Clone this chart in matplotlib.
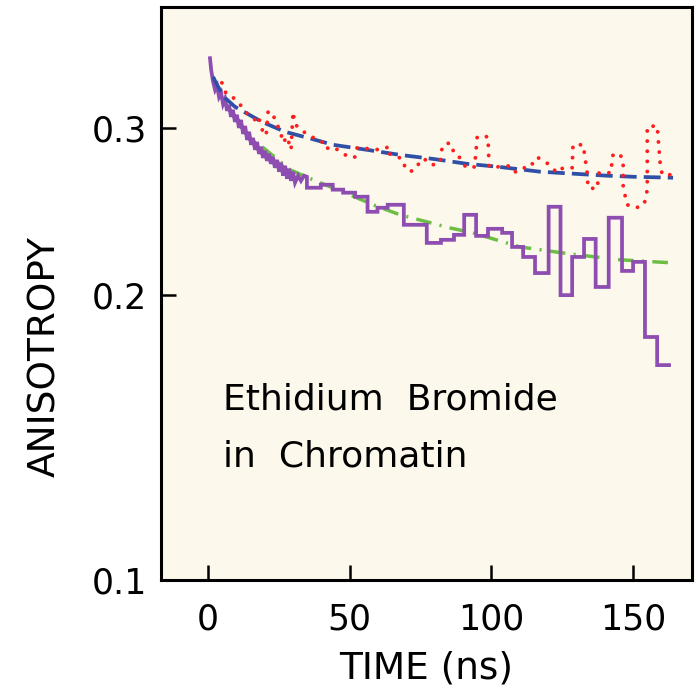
import matplotlib
matplotlib.use("Agg")
import matplotlib.pyplot as plt
from matplotlib.ticker import FixedLocator, NullLocator, FixedFormatter
import numpy as np

# anisotropy decay (time in ns)
purple_t = [0.7, 1.1, 1.8, 2.5, 3.2, 3.9, 4.6, 5.3, 6.0, 6.7, 7.4, 8.1, 8.8, 9.5,
            10.2, 10.9, 11.6, 12.4, 13.1, 13.8, 14.5, 15.2, 15.9, 16.6, 17.3, 18.0,
            18.7, 19.4, 20.1, 20.8, 21.5, 22.2, 22.9, 23.6, 24.4, 25.1, 25.8, 26.5,
            27.2, 27.9, 28.6, 29.3, 30.0, 30.7, 31.8, 32.8, 33.9, 34.9]
purple_r = [0.355, 0.3451, 0.3352, 0.3287, 0.3319, 0.3232, 0.3263, 0.3177, 0.3216,
            0.3124, 0.3170, 0.3079, 0.3132, 0.3041, 0.3094, 0.2997, 0.3056, 0.2954,
            0.3011, 0.2911, 0.2969, 0.2877, 0.2925, 0.2842, 0.2897, 0.2814, 0.2863,
            0.2787, 0.2835, 0.2767, 0.2814, 0.2747, 0.2794, 0.2721, 0.2773, 0.2695,
            0.2754, 0.2669, 0.2734, 0.2649, 0.2714, 0.2636, 0.2695, 0.2624, 0.2669,
            0.2636, 0.2669, 0.2662]

# later, binned part of the same trace (bin edges and values)
step_edges = [34.9, 39.8, 44.0, 47.7, 51.9, 56.3, 59.8, 63.4, 69.1, 77.2, 82.2, 86.8,
              90.4, 94.6, 98.8, 103.8, 107.3, 111.2, 115.4, 120.2, 124.4, 128.5, 132.7,
              136.8, 141.4, 146.1, 150.0, 154.2, 158.5, 162.7]
step_r = [0.2592, 0.2611, 0.2580, 0.2561, 0.2536, 0.2445, 0.2469, 0.2487, 0.2369,
          0.2267, 0.2284, 0.2312, 0.2427, 0.2306, 0.2346, 0.2323, 0.2245, 0.2191,
          0.2107, 0.2475, 0.1997, 0.2191, 0.2289, 0.2037, 0.2410, 0.2118, 0.2165,
          0.1804, 0.1685]

red_t = [4.9, 6.4, 8.5, 10.9, 13.1, 14.8, 16.6, 17.7, 19.1, 20.5, 21.2, 22.9, 23.7,
         25.4, 26.5, 27.9, 29.3, 30.0, 30.7, 32.5, 34.2, 38.5, 40.2, 41.3, 44.1, 48.4,
         50.1, 52.2, 52.6, 57.2, 60.7, 63.9, 63.9, 68.5, 69.5, 71.3, 73.8, 74.8, 77.7,
         79.4, 81.9, 82.6, 84.4, 86.5, 86.5, 88.6, 91.1, 94.3, 94.3, 95.0, 98.8, 99.2,
         103.1, 106.6, 108.4, 111.2, 112.6, 115.4, 116.5, 120.0, 123.2, 125.3, 128.5,
         128.8, 132.4, 133.8, 134.1, 137.3, 138.0, 142.3, 142.6, 144.7, 146.5, 146.5,
         147.9, 151.1, 153.9, 155.0, 155.0, 158.5, 159.6, 160.3, 163.1, 165.2]
red_r = [0.3344, 0.3256, 0.3233, 0.3186, 0.3117, 0.3087, 0.3057, 0.3087, 0.2984, 0.2941,
         0.3117, 0.3110, 0.3042, 0.2984, 0.2891, 0.2934, 0.2842, 0.3117, 0.3020, 0.2998,
         0.2962, 0.2912, 0.2898, 0.2849, 0.2863, 0.2808, 0.2788, 0.2794, 0.2856, 0.2849,
         0.2842, 0.2863, 0.2815, 0.2781, 0.2727, 0.2694, 0.2721, 0.2774, 0.2774, 0.2741,
         0.2754, 0.2856, 0.2891, 0.2870, 0.2822, 0.2794, 0.2721, 0.2727, 0.2774, 0.2934,
         0.2934, 0.2727, 0.2727, 0.2734, 0.2694, 0.2708, 0.2747, 0.2747, 0.2788, 0.2747,
         0.2688, 0.2721, 0.2721, 0.2877, 0.2877, 0.2688, 0.2592, 0.2585, 0.2688, 0.2688,
         0.2801, 0.2822, 0.2781, 0.2598, 0.2487, 0.2469, 0.2487, 0.2579, 0.3006, 0.3013,
         0.2741, 0.2675, 0.2675, 0.2675]

# fitted curves
blue_t = [1.8, 2.8, 4.2, 6.0, 9.5, 19.1, 27.2, 36.7, 44.1, 56.1, 67.8, 79.4, 91.4,
          102.0, 117.2, 128.8, 140.8, 150.0, 164.1]
blue_r = [0.3393, 0.3344, 0.3287, 0.3224, 0.3155, 0.3041, 0.2969, 0.2918, 0.2877,
          0.2842, 0.2807, 0.2780, 0.2747, 0.2728, 0.2695, 0.2682, 0.2669, 0.2662, 0.2656]

green_t = [19.1, 28.9, 37.1, 50.1, 58.2, 67.8, 85.4, 93.5, 110.1, 127.8, 145.4, 162.4]
green_r = [0.2863, 0.2708, 0.2642, 0.2548, 0.2487, 0.2427, 0.2351, 0.2323, 0.2245,
           0.2207, 0.2176, 0.2161]

y_ticks = [0.1, 0.2, 0.3]
y_tick_labels = ['0.1', '0.2', '0.3']
x_ticks = [0, 50, 100, 150]

plt.rcParams['font.family'] = ['DejaVu Sans']

fig = plt.figure(figsize=(6.99, 6.94), dpi=100)
fig.patch.set_facecolor('white')
ax = fig.add_axes([0.2303, 0.1643, 0.7597, 0.8256])
ax.set_facecolor('#FCF8EC')

# expand the binned part into a step path and join it to the early trace
st, sr = [], []
for i, v in enumerate(step_r):
    st += [step_edges[i], step_edges[i + 1]]
    sr += [v, v]
p_t = np.concatenate([purple_t, st])
p_r = np.concatenate([purple_r, sr])

ax.plot(green_t, green_r, color='#6CBE45', linewidth=2.5,
        linestyle=(0, (4.5, 2.4, 0.6, 2.4)), zorder=2)
ax.plot(p_t, p_r, color='#8E4DB0', linewidth=2.7, solid_joinstyle='miter', zorder=3)
ax.plot(blue_t, blue_r, color='#2F50A6', linewidth=2.7,
        linestyle=(0, (4.5, 1.9)), zorder=4)
ax.plot(red_t, red_r, color='#FF1E1E', linewidth=2.8,
        linestyle=(0, (0.01, 2.6)), dash_capstyle='round', zorder=5)

ax.set_yscale('log')
ax.set_ylim(0.1, 0.402)
ax.set_xlim(-16.6, 170.8)
ax.yaxis.set_major_locator(FixedLocator(y_ticks))
ax.yaxis.set_major_formatter(FixedFormatter(y_tick_labels))
ax.yaxis.set_minor_locator(NullLocator())
ax.set_xticks(x_ticks)

ax.tick_params(axis='both', which='major', direction='in', length=11, width=1.8,
               labelsize=25, colors='black')
ax.tick_params(axis='x', pad=16)
ax.tick_params(axis='y', pad=10)

for s in ax.spines.values():
    s.set_linewidth(2.2)
    s.set_color('black')

ax.set_xlabel('TIME (ns)', fontsize=27, labelpad=10)
ax.set_ylabel('ANISOTROPY', fontsize=27)
ax.yaxis.set_label_coords(-0.185, 0.39)

ax.text(0.117, 0.315, 'Ethidium  Bromide', transform=ax.transAxes,
        fontsize=26, ha='left', va='center')
ax.text(0.117, 0.215, 'in  Chromatin', transform=ax.transAxes,
        fontsize=26, ha='left', va='center')

fig.savefig('out.png', dpi=100, facecolor='white')
